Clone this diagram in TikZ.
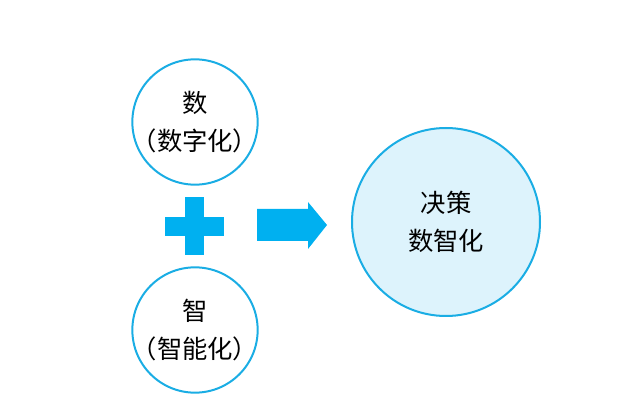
\documentclass[tikz,border=0pt]{standalone}
\usepackage{fontspec}
\setmainfont{Noto Sans CJK SC}
\usepackage{tikz}
\usetikzlibrary{positioning}
\usepackage{xcolor}
\definecolor{cyanline}{HTML}{1AADE4}
\definecolor{cyanfill}{HTML}{00B0F0}
\definecolor{paleblue}{HTML}{DDF3FC}

\begin{document}
\begin{tikzpicture}[
    x=0.75pt, y=-0.75pt,
    ring/.style={draw=cyanline, line width=1.5pt, circle, minimum size=94pt, inner sep=0pt},
    bigring/.style={ring, fill=paleblue, minimum size=141pt},
    label/.style={align=center, inner sep=0pt, font=\fontsize{19}{28.5}\selectfont},
    solid/.style={fill=cyanfill, draw=none}
]
\useasboundingbox (0,0) rectangle (640,406);
\node[ring] (shu) at (195,122) {};
\node[ring] (zhi) at (195,330) {};
\node[bigring] (jc) at (446,222) {};
\node[label] (shutxt) at (shu.center) {数\\（数字化）};
\node[label] (zhitxt) at (zhi.center) {智\\（智能化）};
\node[label] (jctxt) at (jc.center) {决策\\数智化};
% plus and arrow
\fill[solid] (185,197) rectangle (204,255);
\fill[solid] (165,217) rectangle (224,236);
\fill[solid] (257,209) -- (308,209) -- (308,202) -- (327,225) -- (308,249) -- (308,241) -- (257,241) -- cycle;
\end{tikzpicture}
\end{document}
